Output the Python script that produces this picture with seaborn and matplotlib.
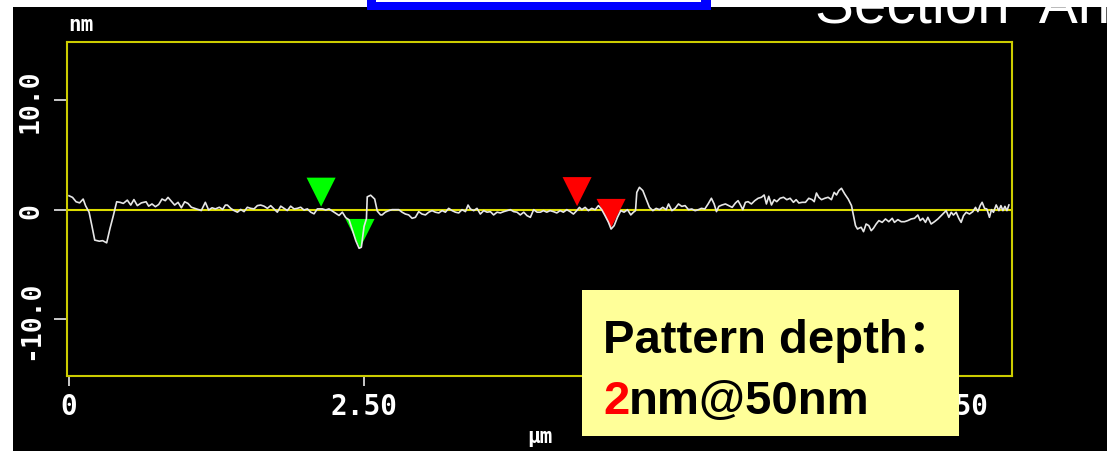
import matplotlib
matplotlib.use("Agg")
import matplotlib.pyplot as plt
from matplotlib.markers import MarkerStyle
from matplotlib.patches import Rectangle
import seaborn as sns

# ---------------- data ----------------
profile_x = [
    0.00, 0.03, 0.06, 0.09, 0.12, 0.14, 0.17, 0.195, 0.218, 0.257, 0.285, 0.319, 0.347, 0.376, 0.404,
    0.432, 0.46, 0.494, 0.523, 0.55, 0.579, 0.613, 0.653, 0.675, 0.703, 0.732, 0.76, 0.788, 0.816,
    0.839, 0.867, 0.895, 0.924, 0.952, 0.98, 1.008, 1.037, 1.065, 1.093, 1.121, 1.155, 1.183, 1.212,
    1.24, 1.274, 1.302, 1.325,
    1.342, 1.37, 1.398, 1.427, 1.455, 1.483, 1.511, 1.539, 1.568, 1.596, 1.624, 1.652, 1.681, 1.709,
    1.737, 1.765, 1.794, 1.822, 1.85, 1.878, 1.907, 1.935, 1.963, 1.991, 2.02, 2.048, 2.076, 2.104,
    2.147, 2.175, 2.203, 2.232, 2.26, 2.288, 2.316, 2.345, 2.373, 2.40, 2.43, 2.458, 2.477, 2.50,
    2.52, 2.527, 2.556, 2.59, 2.612, 2.64,
    2.653, 2.68, 2.709, 2.737, 2.765, 2.794, 2.822, 2.85, 2.878, 2.907, 2.935, 2.963, 2.991, 3.02,
    3.048, 3.076, 3.104, 3.133, 3.161, 3.189, 3.217, 3.246, 3.274, 3.302, 3.33, 3.359, 3.381, 3.401,
    3.429, 3.457, 3.485, 3.514, 3.542, 3.57, 3.598, 3.627, 3.655, 3.683, 3.711, 3.74, 3.768, 3.796,
    3.824, 3.853, 3.881, 3.909, 3.937, 3.966, 3.994,
    4.02, 4.048, 4.076, 4.105, 4.133, 4.161, 4.189, 4.218, 4.246, 4.274, 4.302, 4.325, 4.345, 4.373,
    4.401, 4.429, 4.458, 4.486, 4.514, 4.542, 4.571, 4.593, 4.619, 4.647, 4.675, 4.703, 4.732, 4.76,
    4.783, 4.80, 4.811, 4.833, 4.862, 4.89, 4.918, 4.947, 4.975, 5.003, 5.031, 5.06, 5.08, 5.108,
    5.136, 5.164, 5.192, 5.22, 5.249, 5.277, 5.305, 5.333,
    5.359, 5.387, 5.415, 5.443, 5.466, 5.486, 5.506, 5.534, 5.562, 5.59, 5.619, 5.647, 5.669, 5.692,
    5.709, 5.731, 5.754, 5.782, 5.81, 5.839, 5.867, 5.89, 5.909, 5.929, 5.952, 5.975, 5.997, 6.025,
    6.054, 6.082, 6.11, 6.138, 6.161, 6.184, 6.212, 6.24, 6.268, 6.297, 6.314, 6.333, 6.353, 6.376,
    6.404, 6.432, 6.46, 6.483, 6.503, 6.523, 6.545, 6.573, 6.602, 6.63, 6.647, 6.664, 6.681,
    6.692, 6.712, 6.732, 6.754, 6.777, 6.797, 6.816, 6.839, 6.862, 6.89, 6.918, 6.946, 6.975, 6.994,
    7.023, 7.051, 7.079, 7.107, 7.136, 7.164, 7.192, 7.212, 7.234, 7.257, 7.277, 7.305, 7.333, 7.362,
    7.39, 7.418, 7.432, 7.455, 7.475, 7.494, 7.517, 7.539, 7.559, 7.579, 7.602, 7.63, 7.658, 7.681,
    7.701, 7.72, 7.737, 7.757, 7.777, 7.799, 7.816, 7.833, 7.856, 7.879, 7.896, 7.913, 7.93, 7.947,
    7.964,
]
profile_y = [
    1.30, 1.15, 0.75, 0.65, 1.00, 0.40, -0.20, -1.50, -2.75, -2.85, -2.80, -3.00, -1.70, -0.50, 0.75,
    0.70, 0.60, 0.90, 0.45, 0.95, 0.40, 0.65, 0.75, 0.35, 0.55, 0.30, 0.50, 1.00, 0.85,
    1.15, 0.80, 0.45, 0.70, 0.20, 0.75, 0.60, 0.25, 0.15, 0.05, -0.05, 0.70, 0.00, 0.20,
    0.10, 0.25, 0.05, 0.45,
    0.45, 0.15, -0.05, -0.20, 0.05, -0.15, 0.25, 0.15, 0.10, 0.40, 0.45, 0.35, 0.15, 0.40,
    0.10, -0.20, 0.35, 0.15, -0.05, 0.35, 0.10, 0.15, 0.25, 0.00, 0.10, -0.20, -0.35, 0.10,
    0.10, 0.00, 0.10, -0.10, -0.30, -0.50, -0.20, -0.70, -0.90, -1.80, -2.80, -3.50, -3.40, -1.50,
    -0.80, 1.20, 1.35, 1.00, -0.10, -0.45,
    -0.45, -0.20, -0.06, 0.03, 0.03, 0.03, -0.20, -0.37, -0.45, -0.76, -0.67, -0.15, -0.37, -0.45,
    -0.20, -0.06, -0.20, -0.27, -0.06, -0.20, 0.15, -0.06, -0.20, -0.27, 0.03, -0.15, 0.45, 0.09,
    -0.06, 0.15, -0.37, -0.06, -0.20, -0.15, -0.45, -0.20, -0.27, -0.15, -0.06, 0.03, -0.15, -0.20,
    -0.45, -0.20, -0.52, -0.67, 0.03, -0.20, -0.20,
    -0.06, -0.20, -0.06, -0.15, -0.27, -0.06, -0.20, 0.03, -0.15, -0.37, -0.06, 0.24, 0.03, 0.24,
    -0.06, 0.15, 0.03, 0.40, 0.03, -0.52, -1.13, -1.74, -1.43, -0.67, -0.06, -0.20, 0.03, -0.45,
    -0.20, -0.06, 1.61, 2.07, 1.77, 1.00, 0.24, -0.06, 0.15, 0.03, 0.24, 0.03, 0.55, -0.06,
    0.15, 0.55, 0.33, 0.40, 0.03, 0.09, -0.06, 0.03,
    0.15, 0.09, 0.55, 1.07, 0.55, -0.15, 0.33, 0.46, 0.55, 0.40, 0.24, 0.64, 0.85, 0.40,
    0.03, 0.70, 0.76, 0.55, 0.85, 1.07, 1.16, 1.37, 0.55, 1.25, 0.46, 0.94, 0.76, 1.07,
    1.16, 0.94, 1.07, 0.70, 0.94, 0.64, 0.70, 0.70, 1.07, 0.94, 0.76, 1.55, 1.16, 0.94,
    1.07, 1.16, 0.94, 1.61, 1.37, 1.77, 1.98, 1.46, 1.00, 0.40, -0.52, -1.43, -1.74,
    -1.67, -1.58, -1.98, -1.28, -1.43, -1.89, -1.67, -1.28, -0.97, -1.13, -0.82, -1.07, -0.76, -1.13,
    -0.88, -1.07, -1.07, -0.97, -0.82, -0.76, -0.46, -0.97, -0.76, -1.13, -0.67, -1.28, -1.07, -0.82,
    -0.52, -0.21, -0.06, -0.67, -0.21, -0.46, -0.21, -0.76, -1.13, -0.52, -0.21, -0.37, -0.15, 0.24,
    -0.15, 0.40, 0.70, 0.15, 0.09, -0.67, 0.03, -0.21, 0.46, -0.06, 0.40, -0.06, 0.33, -0.06,
    0.46,
]
marker_x = [2.136, 2.466, 4.305, 4.593]
marker_y = [0.30, -3.47, 0.35, -1.64]
marker_pair = ["green", "green", "red", "red"]

xtick_values = [0, 2.5, 5.0, 7.5]
xtick_labels = ["0", "2.50", "5.00", "7.50"]
ytick_values = [-10, 0, 10]
ytick_labels = ["-10.0", "0", "10.0"]

title_text = "Section  Analysis"
note_line1 = "Pattern depth："
note_value = "2"
note_rest = "nm@50nm"

# ---------------- layout helpers (figure pixels) ----------------
W, H = 1107, 452
fig = plt.figure(figsize=(W / 100, H / 100), dpi=100, facecolor="white")


def fx(px):
    return px / W


def fy(py):
    return 1 - py / H


# black panel
fig.add_artist(Rectangle((fx(13), 0), 1 - fx(13), fy(8), transform=fig.transFigure,
                         facecolor="black", edgecolor="none", zorder=-10))

ax = fig.add_axes([fx(67), fy(377), fx(1012) - fx(67), fy(43) - fy(377)])
ax.set_facecolor("black")

frame_col = "#cccc00"
ax.axhline(0, color="#dede00", lw=1.5, zorder=1.5)

sns.scatterplot(x=marker_x, y=marker_y, hue=marker_pair,
                palette={"green": "#00ff00", "red": "#ff0000"},
                marker=MarkerStyle([(-0.5, 1.0), (0.5, 1.0), (0.0, 0.0)]),
                s=1750, linewidth=0, edgecolor="none", legend=False, ax=ax, zorder=2)

sns.lineplot(x=profile_x, y=profile_y, sort=False, estimator=None, color="#e6e6e6",
             linewidth=1.2, ax=ax, zorder=3)

ax.set_xlim(-0.017, 7.99)
ax.set_ylim(-15.16, 15.34)

for sp in ax.spines.values():
    sp.set_color(frame_col)
    sp.set_linewidth(1.5)

ax.set_xticks(xtick_values, xtick_labels)
ax.set_yticks(ytick_values, ytick_labels)
ax.tick_params(axis="y", colors="white", length=9.5, width=1.1, pad=7, labelsize=19,
               labelrotation=90)
ax.tick_params(axis="x", colors="white", length=7.2, width=1.1, pad=4.3, labelsize=20)
for lbl in ax.get_xticklabels() + ax.get_yticklabels():
    lbl.set_fontfamily("DejaVu Sans Mono")
    lbl.set_fontweight("bold")
for lbl in ax.get_yticklabels():
    lbl.set_verticalalignment("center")

ax.set_xlabel("µm", color="white", fontsize=15, fontweight="bold",
              family="DejaVu Sans Mono", labelpad=4)
ax.set_ylabel("")
ax.text(0.001, 1.055, "nm", transform=ax.transAxes, color="white", fontsize=15,
        fontweight="bold", family="DejaVu Sans Mono", ha="left", va="center", clip_on=False)

# title (cut by the top edge as in the reference)
fig.text(fx(815), fy(23), title_text, color="white", fontsize=42, family="Liberation Sans",
         ha="left", va="baseline", zorder=6)

# blue box edge at the top
fig.add_artist(Rectangle((fx(367), fy(10.5)), fx(711) - fx(367), 1 - fy(10.5) + 0.05,
                         transform=fig.transFigure, facecolor="#0000ff", edgecolor="none",
                         zorder=6, clip_on=False))
fig.add_artist(Rectangle((fx(376), fy(3.3)), fx(701) - fx(376), 1 - fy(3.3) + 0.05,
                         transform=fig.transFigure, facecolor="white", edgecolor="none",
                         zorder=7, clip_on=False))

# yellow annotation box
fig.add_artist(Rectangle((fx(582), fy(437)), fx(959) - fx(582), fy(291) - fy(437),
                         transform=fig.transFigure, facecolor="#ffff99", edgecolor="none",
                         zorder=5))
note_font = dict(fontsize=34, fontweight="bold", family=["Liberation Sans", "Noto Sans CJK SC"],
                 va="baseline", ha="left", zorder=6)
fig.text(fx(603), fy(353), note_line1, color="black", **note_font)
t2 = fig.text(fx(603), fy(414), note_value, color="#ff0000", **note_font)
fig.canvas.draw()
bb = t2.get_window_extent()
fig.text(bb.x1 / fig.bbox.width, fy(414), note_rest, color="black", **note_font)

fig.savefig("out.png", dpi=100, facecolor="white")
